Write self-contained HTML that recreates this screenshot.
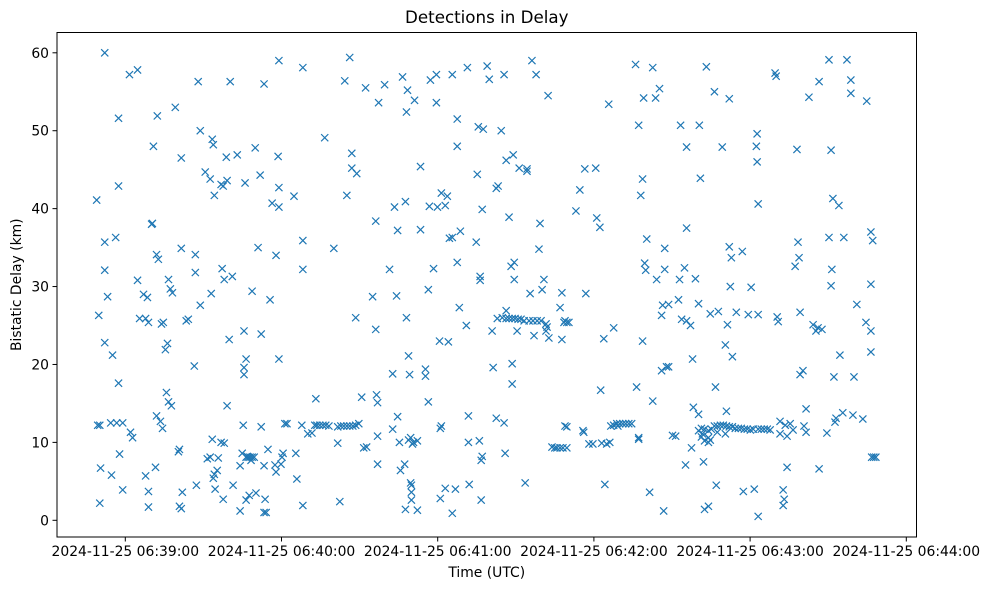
<!DOCTYPE html>
<html><head><meta charset="utf-8"><style>
html,body{margin:0;padding:0;background:#fff;}
svg{display:block;font-family:"DejaVu Sans","Liberation Sans",sans-serif;}
</style></head><body>
<svg id="chart" width="989" height="590" viewBox="0 0 989 590"></svg>
<script>
// seconds after base time 06:39:02.4 UTC on 2024-11-25
const baseOffsetSec = 2.4;
const times = [-13.4,-12.6,-13.0,-12.2,-11.9,-12.2,-10.3,-10.3,-10.3,-9.2,-10.3,-7.3,-8.0,-6.1,-7.7,-5.0,-5.0,-5.0,-4.6,-3.4,-5.7,-3.4,-0.8,2.3,-0.4,0.4,2.3,3.1,4.6,6.1,5.4,6.5,6.5,5.4,6.5,8.0,7.7,8.4,9.9,9.6,10.3,9.6,9.2,11.1,11.9,12.2,11.5,13.0,13.8,13.4,14.2,14.9,14.2,15.3,15.7,16.8,18.4,18.0,19.1,19.1,19.1,18.4,19.5,21.0,21.8,24.5,24.5,24.1,24.9,25.6,26.4,26.4,28.3,29.1,30.2,30.2,30.6,31.0,31.4,31.8,31.0,31.8,31.4,32.9,32.1,33.3,34.4,34.8,35.2,35.2,34.4,35.6,35.6,36.4,36.7,36.7,37.9,38.7,37.5,39.0,40.6,41.7,41.7,42.5,42.9,43.2,43.6,43.2,43.2,44.0,44.0,44.8,45.2,44.0,45.5,46.3,47.1,45.9,44.4,46.3,47.8,47.5,48.6,49.4,49.8,49.8,51.3,50.9,51.7,50.9,50.9,52.4,53.2,54.0,55.1,55.5,55.5,56.6,56.6,56.3,56.6,56.6,57.4,57.8,58.2,58.9,59.7,62.4,63.1,63.5,65.8,65.8,65.8,65.8,65.4,67.7,69.3,70.4,70.8,71.2,72.3,73.5,74.6,75.8,74.2,77.7,79.2,80.0,79.2,80.4,81.5,82.7,83.8,85.0,86.1,87.3,81.9,82.7,83.8,84.6,84.6,86.1,86.5,88.4,89.2,90.3,89.9,92.6,93.8,94.1,94.5,94.5,94.5,93.8,94.9,97.2,99.1,100.3,100.3,101.0,101.8,102.2,102.2,102.9,103.3,104.1,104.9,105.2,105.2,105.6,105.6,106.0,106.8,106.4,107.2,107.9,108.3,106.4,107.5,107.5,107.5,107.2,108.7,109.8,109.8,111.0,111.0,112.9,112.9,114.0,114.0,114.4,114.8,116.0,117.1,117.5,117.1,118.3,118.6,118.6,119.0,119.0,120.5,120.5,121.3,121.7,122.1,123.2,123.2,123.2,124.4,125.1,125.1,125.1,125.9,126.3,128.6,129.0,129.4,129.4,129.7,132.4,132.8,133.2,133.6,133.9,133.9,134.3,134.3,134.7,134.7,135.1,136.6,137.4,138.5,138.9,140.1,140.1,140.8,142.0,143.1,143.1,143.5,143.9,143.9,145.0,145.8,146.2,146.2,146.6,147.0,147.0,148.1,148.9,151.2,151.9,151.9,153.1,153.8,154.6,155.4,156.5,157.7,140.5,142.4,143.9,145.0,146.2,147.3,148.5,149.6,150.8,152.7,154.2,155.8,157.3,159.2,159.2,160.3,159.6,156.9,160.0,158.4,161.5,162.6,163.4,164.6,165.7,167.2,166.5,164.6,165.3,166.1,167.2,168.0,165.3,166.5,167.2,170.7,172.2,173.4,173.7,174.5,174.1,175.7,177.2,178.3,178.7,179.9,180.2,180.6,181.8,181.4,182.5,183.3,183.7,184.1,185.2,186.4,187.5,188.7,189.8,191.0,192.1,185.2,186.8,193.6,194.0,194.8,194.8,194.8,195.6,196.3,196.3,196.7,197.1,197.5,197.9,199.0,200.2,200.2,201.3,201.7,202.8,203.6,203.6,204.0,204.4,204.8,204.8,205.5,206.3,206.3,207.8,209.0,210.1,210.5,210.9,211.3,212.4,212.8,213.2,213.2,213.2,214.7,215.1,215.5,215.8,216.6,217.8,218.1,218.5,217.8,218.9,220.1,221.6,222.7,223.9,225.0,226.2,227.3,228.5,229.6,230.8,231.9,233.1,234.2,235.4,236.5,237.7,238.8,240.7,241.9,243.0,244.2,245.3,218.9,220.1,221.6,221.6,222.3,217.8,219.3,219.7,220.1,220.8,221.6,222.3,223.9,224.3,225.0,225.4,224.6,226.9,228.1,228.1,228.5,228.9,229.6,229.6,230.0,230.4,230.8,232.3,234.6,235.0,236.9,238.0,239.2,240.0,240.3,240.7,240.3,240.7,240.7,247.2,247.6,248.0,248.4,249.1,249.1,250.3,250.3,250.7,251.1,251.8,251.8,253.0,254.1,254.9,255.6,256.0,256.4,256.8,256.8,257.9,258.3,259.1,259.1,260.2,261.8,262.9,263.7,264.1,264.1,265.2,267.1,267.9,267.9,268.7,268.7,269.0,269.4,269.8,270.2,270.6,271.7,272.1,273.2,273.6,274.8,276.3,276.3,277.1,277.5,278.6,280.9,282.1,282.4,284.0,284.7,284.0,284.3,285.1,285.9,284.0,284.0];
const delays = [41.1,26.3,12.2,12.2,6.7,2.2,60.0,35.7,32.1,28.7,22.8,21.2,12.5,36.3,5.8,51.6,42.9,17.6,8.5,3.9,12.5,12.5,57.2,57.8,11.3,10.6,30.8,25.9,29.0,28.6,25.9,25.4,3.7,5.7,1.7,38.1,38.0,48.0,51.9,34.1,33.5,13.4,6.8,12.7,11.8,25.4,25.2,21.9,22.7,16.4,30.9,29.7,15.2,14.7,29.2,53.0,9.1,8.8,34.9,46.5,1.5,1.8,3.6,25.6,25.8,34.1,31.8,19.8,4.5,56.3,50.0,27.6,44.7,7.9,8.1,43.8,29.1,48.9,48.2,41.7,10.4,5.9,5.4,6.4,4.0,8.0,43.1,32.3,42.9,2.7,10.0,9.9,30.9,46.6,43.6,14.7,56.3,31.3,23.2,4.5,46.9,1.2,7.0,8.6,12.2,24.3,43.3,18.7,19.6,20.7,2.6,8.1,3.2,8.1,8.1,8.1,8.1,7.7,8.2,29.4,3.5,47.8,35.0,44.3,23.9,12.0,2.7,56.0,1.0,1.0,7.0,9.1,28.3,40.7,7.1,34.0,6.2,40.2,42.7,46.7,20.7,59.0,7.2,8.1,8.6,12.4,12.4,41.6,8.6,5.3,1.9,58.1,35.9,32.2,12.2,11.1,11.2,12.2,15.6,12.2,12.2,12.2,12.2,12.1,49.1,34.9,9.9,2.4,12.0,12.1,12.1,12.1,12.1,12.1,12.2,12.4,56.4,41.7,59.4,47.1,45.2,26.0,44.5,15.8,9.3,9.4,55.5,28.7,38.4,16.1,15.1,10.8,7.2,24.5,53.6,55.9,32.2,11.7,18.8,40.2,28.8,13.3,37.2,10.0,6.4,56.9,7.2,1.4,40.9,26.0,52.4,55.2,18.7,21.1,10.6,9.8,10.0,10.3,3.6,4.5,2.6,4.8,53.9,1.3,10.2,45.4,37.3,18.5,19.4,15.2,29.6,40.3,56.5,32.3,53.6,40.2,57.2,23.0,2.8,11.8,42.0,12.1,4.1,40.4,41.6,22.9,36.2,36.3,57.2,0.9,4.0,48.0,51.5,33.1,27.3,37.1,25.0,58.1,13.4,10.0,4.6,35.7,44.4,50.5,10.2,30.8,31.3,2.6,7.7,8.2,39.9,50.2,58.3,56.6,24.3,19.6,42.6,13.1,42.9,50.0,57.2,12.5,8.6,26.9,46.2,38.9,32.6,20.1,17.5,46.9,33.1,30.9,24.3,45.2,4.8,45.1,44.8,29.1,59.0,23.7,57.2,34.8,29.6,25.9,26.0,25.9,25.9,25.9,25.9,25.8,25.8,25.6,25.6,25.6,25.6,25.6,25.2,24.3,23.4,24.8,38.1,54.5,30.9,9.4,9.3,9.3,9.3,9.3,9.3,12.1,27.3,23.2,25.4,25.4,25.4,29.2,25.6,12.0,39.7,42.4,11.5,11.3,29.1,45.1,9.8,9.8,45.2,38.8,37.6,16.7,9.9,4.6,23.3,9.8,53.4,10.0,12.1,12.2,12.4,12.4,12.4,12.4,12.4,12.4,24.7,12.1,58.5,17.1,10.6,10.4,50.7,41.7,43.8,23.0,54.2,33.0,32.1,36.1,3.6,58.1,15.3,54.2,30.9,55.4,26.3,19.2,27.6,1.2,34.9,32.2,19.7,27.7,19.7,10.9,10.8,28.3,30.9,50.7,25.8,32.4,7.1,37.5,25.6,47.9,25.0,9.3,20.7,14.5,31.0,27.8,50.7,43.9,11.5,11.8,11.7,11.5,11.7,12.1,12.1,12.2,12.2,12.1,12.0,12.0,11.8,11.8,11.8,11.7,11.7,11.6,11.7,11.7,11.7,11.7,11.7,11.6,10.7,10.2,10.0,10.6,10.3,13.6,11.1,7.5,1.4,58.2,1.8,26.5,55.0,17.1,11.3,26.8,4.5,47.9,11.1,22.5,14.0,25.1,35.1,54.1,30.0,33.7,21.0,26.7,34.5,3.7,26.4,29.9,4.0,48.0,46.0,40.6,49.6,26.4,0.5,57.4,57.0,26.1,25.5,12.7,11.1,3.9,1.9,2.7,12.2,6.8,10.8,12.4,11.6,32.6,47.6,35.7,33.7,26.7,18.7,19.2,12.1,14.3,11.3,54.3,25.1,24.3,24.7,56.3,6.6,24.5,11.2,59.1,36.3,47.5,30.1,32.2,41.3,18.4,12.6,13.1,40.4,21.2,13.8,36.3,59.1,54.8,56.5,13.5,18.4,27.7,13.0,25.4,53.8,30.3,35.9,37.0,8.1,8.1,8.1,21.6,24.3];
const yTicks = [0,10,20,30,40,50,60];
const xTickMinutes = [39,40,41,42,43,44];
const xTickLabels = ["2024-11-25 06:39:00","2024-11-25 06:40:00","2024-11-25 06:41:00","2024-11-25 06:42:00","2024-11-25 06:43:00","2024-11-25 06:44:00"];

const NS="http://www.w3.org/2000/svg";
const svg=document.getElementById('chart');
const L=57,R=916.5,T=32.5,B=537;
const pxPerSec=(906.3-125.3)/300;
function xScale(secAfter0639){return 125.3+secAfter0639*pxPerSec;}
function yScale(v){return 520.3-v*(520.3-52.8)/60;}
function mk(tag,attrs){const e=document.createElementNS(NS,tag);for(const k in attrs)e.setAttribute(k,attrs[k]);svg.appendChild(e);return e;}

let t=mk('text',{x:(L+R)/2,y:23,'text-anchor':'middle','font-size':'16.7'});t.textContent='Detections in Delay';


t=mk('text',{x:(L+R)/2,y:577,'text-anchor':'middle','font-size':'13.9'});t.textContent='Time (UTC)';


t=mk('text',{x:0,y:0,'text-anchor':'middle','font-size':'13.9',transform:'translate(21,'+((T+B)/2)+') rotate(-90)'});t.textContent='Bistatic Delay (km)';



yTicks.forEach(v=>{
  const y=yScale(v);
  const l=mk('line',{x1:L-4.5,x2:L,y1:y,y2:y,stroke:'#000','stroke-width':'1'});
  
  
  const tx=mk('text',{x:L-8,y:y+5,'text-anchor':'end','font-size':'13.9'});tx.textContent=String(v);
  
  
});
xTickMinutes.forEach((m,i)=>{
  const x=xScale((m-39)*60);
  const l=mk('line',{x1:x,x2:x,y1:B,y2:B+4.5,stroke:'#000','stroke-width':'1'});
  
  
  const tx=mk('text',{x:x,y:B+19,'text-anchor':'middle','font-size':'13.9'});tx.textContent=xTickLabels[i];
  
  
});
const g=mk('g',{stroke:'#1f77b4','stroke-width':'1.2',fill:'none'});


const h=3.6;
for(let i=0;i<times.length;i++){
  const x=xScale(times[i]+baseOffsetSec), y=yScale(delays[i]);
  const p=document.createElementNS(NS,'path');
  p.setAttribute('d',`M${x-h},${y-h}L${x+h},${y+h}M${x-h},${y+h}L${x+h},${y-h}`);
  
  
  g.appendChild(p);
}
const f=mk('rect',{x:L,y:T,width:R-L,height:B-T,fill:'none',stroke:'#000','stroke-width':'1'});


</script>
</body></html>
